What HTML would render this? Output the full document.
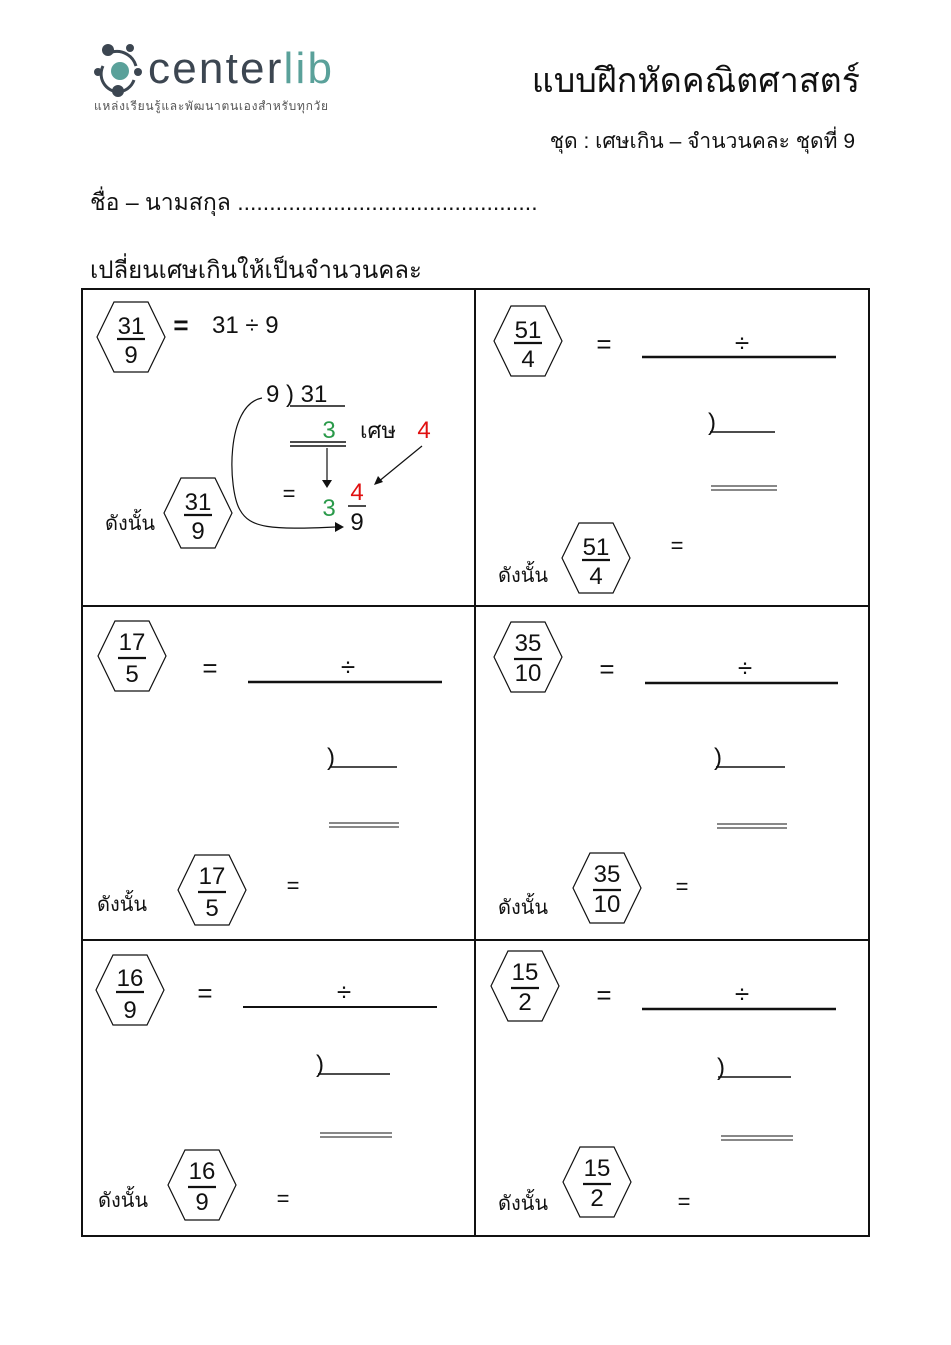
<!DOCTYPE html>
<html><head><meta charset="utf-8"><style>
html,body{margin:0;padding:0;background:#fff;}
svg{display:block;font-family:"Liberation Sans","DejaVu Sans",sans-serif;}
.n{font-size:24px;text-anchor:middle;fill:#111}
.t{font-size:20px;fill:#111;text-anchor:start}
.eq{font-size:26px;fill:#111;text-anchor:middle}
</style></head><body>
<svg width="951" height="1345" viewBox="0 0 951 1345" xmlns="http://www.w3.org/2000/svg">
<rect width="951" height="1345" fill="#fff"/>
<!-- logo -->
<g>
<path d="M103,66 A18,18 0 0 0 118,92" fill="none" stroke="#3c4651" stroke-width="3"/>
<path d="M112,52 A20,20 0 0 1 136,66" fill="none" stroke="#3c4651" stroke-width="3"/>
<path d="M134,80 A18,18 0 0 1 118,92" fill="none" stroke="#3c4651" stroke-width="3"/>
<circle cx="120" cy="71" r="9" fill="#5aa19a"/>
<circle cx="108" cy="50" r="6" fill="#3c4651"/>
<circle cx="130" cy="48" r="4" fill="#3c4651"/>
<circle cx="98" cy="72" r="4" fill="#3c4651"/>
<circle cx="138" cy="72" r="4" fill="#3c4651"/>
<circle cx="118" cy="91" r="6" fill="#3c4651"/>
<text x="148" y="83" font-size="44" fill="#3c4651" textLength="184">center<tspan fill="#5aa19a">lib</tspan></text>
<text x="94" y="110" font-size="12" fill="#555" textLength="234">แหล่งเรียนรู้และพัฒนาตนเองสำหรับทุกวัย</text>
</g>
<text x="860" y="92" font-size="34" text-anchor="end" fill="#111">แบบฝึกหัดคณิตศาสตร์</text>
<text x="855" y="148" font-size="21" text-anchor="end" fill="#111">ชุด : เศษเกิน – จำนวนคละ  ชุดที่ 9</text>
<text x="90" y="210" font-size="23" fill="#111">ชื่อ – นามสกุล ...............................................</text>
<text x="90" y="278" font-size="24" fill="#111">เปลี่ยนเศษเกินให้เป็นจำนวนคละ</text>

<!-- grid -->
<g stroke="#111" stroke-width="2" fill="none">
<rect x="82" y="289" width="787" height="947"/>
<line x1="475" y1="289" x2="475" y2="1236"/>
<line x1="82" y1="606" x2="869" y2="606"/>
<line x1="82" y1="940" x2="869" y2="940"/>
</g>

<!-- hexagons -->
<g stroke="#111" stroke-width="1.2" fill="none">
<polygon points="97,337 114,302 148,302 165,337 148,372 114,372"/>
<polygon points="164,513 181,478 215,478 232,513 215,548 181,548"/>
<polygon points="494,341 511,306 545,306 562,341 545,376 511,376"/>
<polygon points="562,558 579,523 613,523 630,558 613,593 579,593"/>
<polygon points="98,656 115,621 149,621 166,656 149,691 115,691"/>
<polygon points="178,890 195,855 229,855 246,890 229,925 195,925"/>
<polygon points="494,657 511,622 545,622 562,657 545,692 511,692"/>
<polygon points="573,888 590,853 624,853 641,888 624,923 590,923"/>
<polygon points="96,990 113,955 147,955 164,990 147,1025 113,1025"/>
<polygon points="168,1185 185,1150 219,1150 236,1185 219,1220 185,1220"/>
<polygon points="491,986 508,951 542,951 559,986 542,1021 508,1021"/>
<polygon points="563,1182 580,1147 614,1147 631,1182 614,1217 580,1217"/>
</g>
<g stroke="#111" stroke-width="2.2">
<line x1="117" y1="339" x2="145" y2="339"/>
<line x1="184" y1="515" x2="212" y2="515"/>
<line x1="514" y1="343" x2="542" y2="343"/>
<line x1="582" y1="560" x2="610" y2="560"/>
<line x1="118" y1="658" x2="146" y2="658"/>
<line x1="198" y1="892" x2="226" y2="892"/>
<line x1="514" y1="659" x2="542" y2="659"/>
<line x1="593" y1="890" x2="621" y2="890"/>
<line x1="116" y1="992" x2="144" y2="992"/>
<line x1="188" y1="1187" x2="216" y2="1187"/>
<line x1="511" y1="988" x2="539" y2="988"/>
<line x1="583" y1="1184" x2="611" y2="1184"/>
</g>
<g>
<text class="n" x="131" y="334">31</text><text class="n" x="131" y="363">9</text>
<text class="n" x="198" y="510">31</text><text class="n" x="198" y="539">9</text>
<text class="n" x="528" y="338">51</text><text class="n" x="528" y="367">4</text>
<text class="n" x="596" y="555">51</text><text class="n" x="596" y="584">4</text>
<text class="n" x="132" y="650">17</text><text class="n" x="132" y="682">5</text>
<text class="n" x="212" y="884">17</text><text class="n" x="212" y="916">5</text>
<text class="n" x="528" y="651">35</text><text class="n" x="528" y="681">10</text>
<text class="n" x="607" y="882">35</text><text class="n" x="607" y="912">10</text>
<text class="n" x="130" y="986">16</text><text class="n" x="130" y="1018">9</text>
<text class="n" x="202" y="1179">16</text><text class="n" x="202" y="1210">9</text>
<text class="n" x="525" y="980">15</text><text class="n" x="525" y="1010">2</text>
<text class="n" x="597" y="1176">15</text><text class="n" x="597" y="1206">2</text>
</g>

<!-- cell 1 worked example -->
<text class="eq" x="181" y="334" font-weight="bold">=</text>
<text class="n" x="212" y="333" style="text-anchor:start">31 ÷  9</text>
<text class="n" x="266" y="402" style="text-anchor:start">9 ) 31</text>
<line x1="290" y1="406" x2="345" y2="406" stroke="#111" stroke-width="1.5"/>
<text class="n" x="329" y="438" style="fill:#2a9a4a">3</text>
<text x="360" y="438" font-size="22" fill="#111">เศษ</text>
<text class="n" x="424" y="438" style="fill:#e01010">4</text>
<line x1="290" y1="442" x2="346" y2="442" stroke="#111" stroke-width="1.5"/>
<line x1="290" y1="446" x2="346" y2="446" stroke="#111" stroke-width="1.5"/>
<line x1="327" y1="448" x2="327" y2="484" stroke="#111" stroke-width="1.2"/>
<polygon points="322,480 332,480 327,488" fill="#111"/>
<line x1="422" y1="446" x2="378" y2="482" stroke="#111" stroke-width="1.2"/>
<polygon points="374,485 378,476 383,482" fill="#111"/>
<text class="eq" x="289" y="501" style="font-size:22px">=</text>
<text class="n" x="329" y="516" style="fill:#2a9a4a">3</text>
<text class="n" x="357" y="500" style="fill:#e01010">4</text>
<line x1="348" y1="506" x2="366" y2="506" stroke="#111" stroke-width="1.5"/>
<text class="n" x="357" y="530">9</text>
<path d="M262,398 C225,405 228,490 240,510 C250,528 270,530 336,527" fill="none" stroke="#111" stroke-width="1.2"/>
<polygon points="344,527 335,522 335,532" fill="#111"/>
<text class="t" x="105" y="530">ดังนั้น</text>

<!-- blank templates -->
<g stroke="#111" fill="none">
<line x1="642" y1="357" x2="836" y2="357" stroke-width="2.5"/>
<line x1="710" y1="432" x2="775" y2="432" stroke-width="1.5"/>
<line x1="711" y1="486" x2="777" y2="486" stroke-width="1"/><line x1="711" y1="490" x2="777" y2="490" stroke-width="1"/>
<line x1="248" y1="682" x2="442" y2="682" stroke-width="2.5"/>
<line x1="330" y1="767" x2="397" y2="767" stroke-width="1.5"/>
<line x1="329" y1="823" x2="399" y2="823" stroke-width="1"/><line x1="329" y1="827" x2="399" y2="827" stroke-width="1"/>
<line x1="645" y1="683" x2="838" y2="683" stroke-width="2.5"/>
<line x1="716" y1="767" x2="785" y2="767" stroke-width="1.5"/>
<line x1="717" y1="824" x2="787" y2="824" stroke-width="1"/><line x1="717" y1="828" x2="787" y2="828" stroke-width="1"/>
<line x1="243" y1="1007" x2="437" y2="1007" stroke-width="2"/>
<line x1="318" y1="1074" x2="390" y2="1074" stroke-width="1.5"/>
<line x1="320" y1="1133" x2="392" y2="1133" stroke-width="1"/><line x1="320" y1="1137" x2="392" y2="1137" stroke-width="1"/>
<line x1="642" y1="1009" x2="836" y2="1009" stroke-width="2.5"/>
<line x1="718" y1="1077" x2="791" y2="1077" stroke-width="1.5"/>
<line x1="721" y1="1136" x2="793" y2="1136" stroke-width="1"/><line x1="721" y1="1140" x2="793" y2="1140" stroke-width="1"/>
</g>
<g>
<text class="eq" x="604" y="353">=</text><text class="eq" x="742" y="352">÷</text><text class="n" x="712" y="430">)</text>
<text class="eq" x="677" y="553" style="font-size:22px">=</text><text class="t" x="498" y="582">ดังนั้น</text>
<text class="eq" x="210" y="677">=</text><text class="eq" x="348" y="676">÷</text><text class="n" x="331" y="765">)</text>
<text class="eq" x="293" y="893" style="font-size:22px">=</text><text class="t" x="97" y="911">ดังนั้น</text>
<text class="eq" x="607" y="678">=</text><text class="eq" x="745" y="677">÷</text><text class="n" x="718" y="765">)</text>
<text class="eq" x="682" y="894" style="font-size:22px">=</text><text class="t" x="498" y="914">ดังนั้น</text>
<text class="eq" x="205" y="1002">=</text><text class="eq" x="344" y="1001">÷</text><text class="n" x="320" y="1072">)</text>
<text class="eq" x="283" y="1206" style="font-size:22px">=</text><text class="t" x="98" y="1207">ดังนั้น</text>
<text class="eq" x="604" y="1004">=</text><text class="eq" x="742" y="1003">÷</text><text class="n" x="721" y="1075">)</text>
<text class="eq" x="684" y="1209" style="font-size:22px">=</text><text class="t" x="498" y="1210">ดังนั้น</text>
</g>
</svg>
</body></html>
